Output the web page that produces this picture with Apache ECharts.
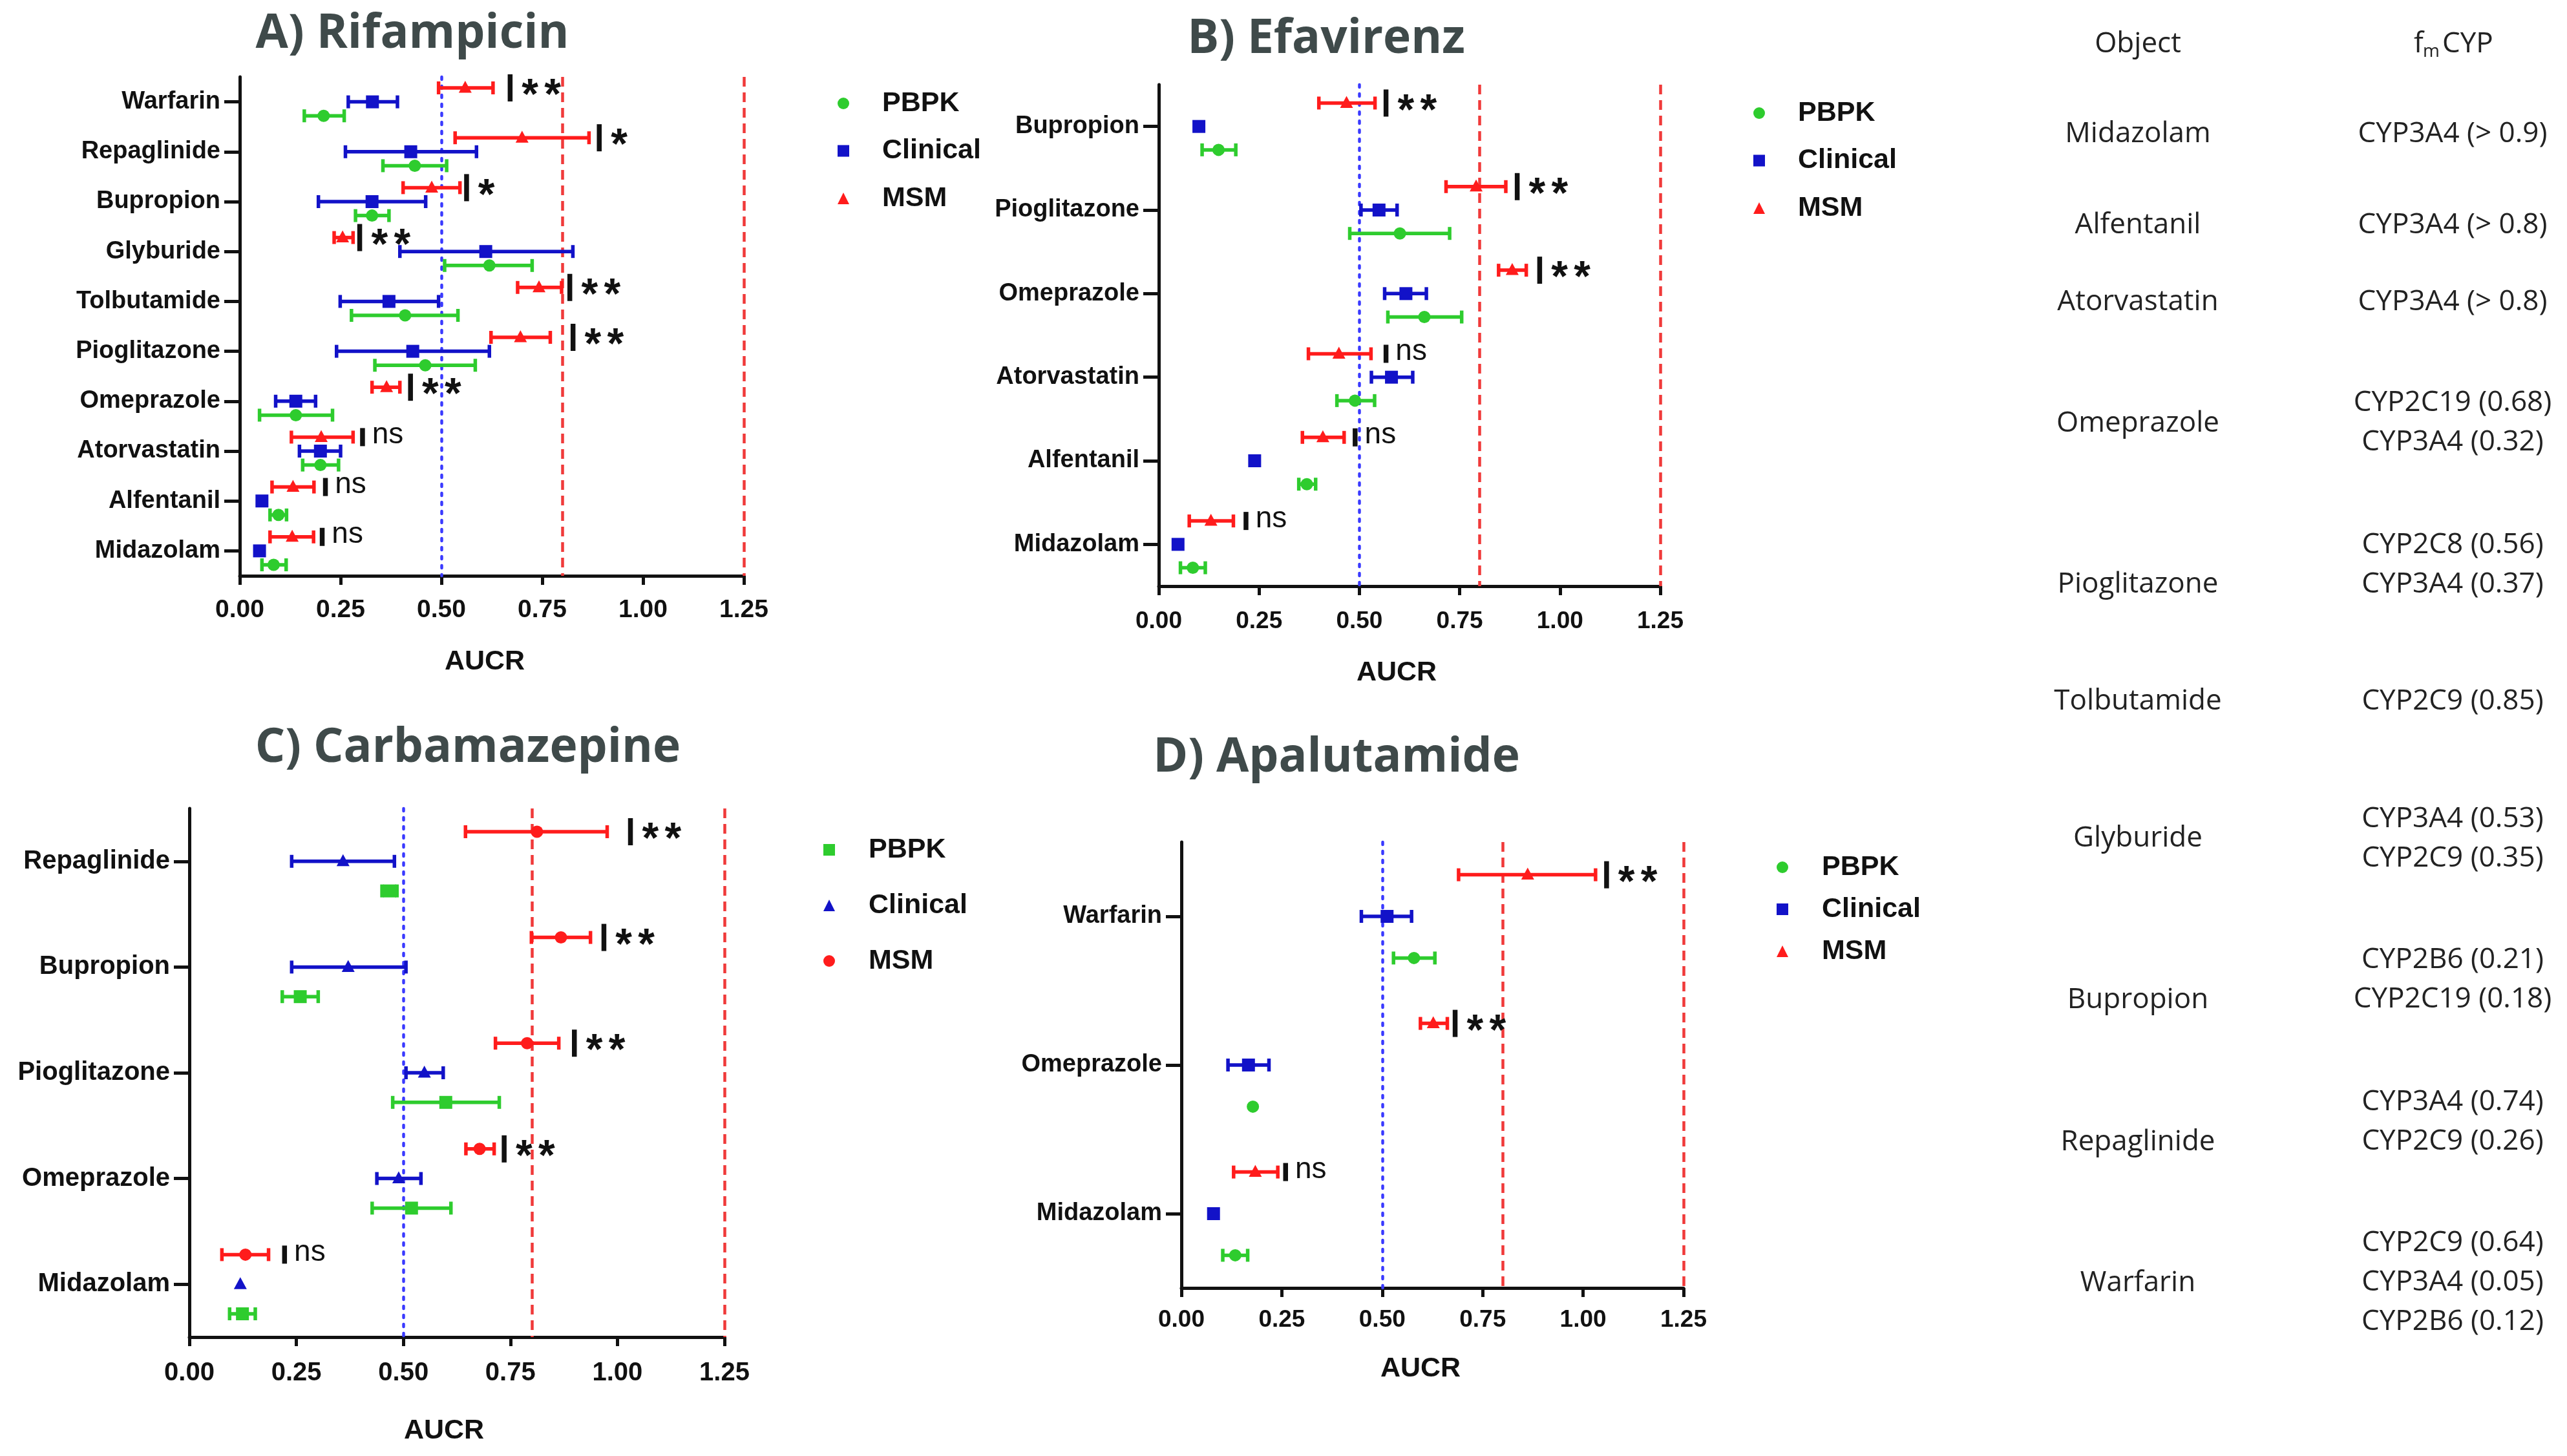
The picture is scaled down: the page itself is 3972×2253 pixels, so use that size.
<!DOCTYPE html>
<html><head><meta charset="utf-8">
<script src="https://cdn.jsdelivr.net/npm/echarts@6/dist/echarts.min.js"></script>
<style>html,body{margin:0;padding:0;background:#fff}#c{width:3972px;height:2253px}</style>
</head><body><div id="c"></div>
<script>
// ================= DATA =================
const xTicks = [0, 0.25, 0.5, 0.75, 1.0, 1.25];
const refDotted = 0.5;
const refDashed = [0.8, 1.25];
const seriesNames = ['PBPK', 'Clinical', 'MSM'];
const axisName = 'AUCR';

// Panel A - Rifampicin  ([low, mean, high])
const titleA = 'A) Rifampicin';
const catsA = ['Warfarin','Repaglinide','Bupropion','Glyburide','Tolbutamide','Pioglitazone','Omeprazole','Atorvastatin','Alfentanil','Midazolam'];
const pbpkA = [[0.160,0.208,0.259],[0.355,0.434,0.513],[0.287,0.328,0.370],[0.508,0.619,0.725],[0.277,0.410,0.541],[0.335,0.460,0.584],[0.049,0.139,0.230],[0.156,0.200,0.245],[0.075,0.096,0.116],[0.055,0.084,0.115]];
const clinA = [[0.269,0.329,0.391],[0.262,0.424,0.587],[0.195,0.328,0.461],[0.397,0.610,0.826],[0.249,0.370,0.493],[0.240,0.429,0.619],[0.089,0.139,0.188],[0.148,0.200,0.250],[0.055,0.055,0.055],[0.049,0.049,0.049]];
const msmA  = [[0.493,0.559,0.628],[0.534,0.700,0.866],[0.405,0.476,0.546],[0.234,0.255,0.281],[0.689,0.742,0.798],[0.623,0.696,0.770],[0.328,0.364,0.397],[0.128,0.202,0.281],[0.080,0.132,0.184],[0.075,0.130,0.183]];
const sigXA = [0.670,0.891,0.562,0.297,0.818,0.826,0.423,0.304,0.212,0.204];
const sigLabA = ['**','*','*','**','**','**','**','ns','ns','ns'];

// Panel B - Efavirenz
const titleB = 'B) Efavirenz';
const catsB = ['Bupropion','Pioglitazone','Omeprazole','Atorvastatin','Alfentanil','Midazolam'];
const pbpkB = [[0.108,0.149,0.192],[0.476,0.601,0.725],[0.571,0.662,0.755],[0.444,0.489,0.538],[0.349,0.369,0.391],[0.054,0.085,0.116]];
const clinB = [[0.100,0.100,0.100],[0.504,0.549,0.594],[0.563,0.616,0.667],[0.530,0.580,0.633],[0.239,0.239,0.239],[0.048,0.048,0.048]];
const msmB  = [[0.399,0.468,0.539],[0.716,0.791,0.865],[0.847,0.881,0.916],[0.373,0.449,0.529],[0.358,0.409,0.462],[0.076,0.130,0.186]];
const sigXB = [0.566,0.893,0.949,0.566,0.489,0.217];
const sigLabB = ['**','**','**','ns','ns','ns'];

// Panel C - Carbamazepine
const titleC = 'C) Carbamazepine';
const catsC = ['Repaglinide','Bupropion','Pioglitazone','Omeprazole','Midazolam'];
const pbpkC = [[0.450,0.468,0.485],[0.217,0.259,0.301],[0.475,0.599,0.724],[0.427,0.519,0.611],[0.094,0.124,0.154]];
const clinC = [[0.239,0.359,0.479],[0.239,0.371,0.506],[0.506,0.549,0.593],[0.438,0.489,0.541],[0.119,0.119,0.119]];
const msmC  = [[0.645,0.812,0.976],[0.799,0.868,0.937],[0.715,0.789,0.863],[0.646,0.678,0.712],[0.076,0.131,0.185]];
const sigXC = [1.030,0.968,0.899,0.735,0.222];
const sigLabC = ['**','**','**','**','ns'];

// Panel D - Apalutamide
const titleD = 'D) Apalutamide';
const catsD = ['Warfarin','Omeprazole','Midazolam'];
const pbpkD = [[0.528,0.579,0.631],[0.178,0.178,0.178],[0.103,0.134,0.165]];
const clinD = [[0.448,0.512,0.573],[0.116,0.167,0.218],[0.080,0.080,0.080]];
const msmD  = [[0.690,0.862,1.031],[0.595,0.627,0.662],[0.130,0.184,0.240]];
const sigXD = [1.058,0.681,0.259];
const sigLabD = ['**','**','ns'];

// Table
const tableHeadObject = 'Object';
const tableObjects = ['Midazolam','Alfentanil','Atorvastatin','Omeprazole','Pioglitazone','Tolbutamide','Glyburide','Bupropion','Repaglinide','Warfarin'];
const tableFm = [
  ['CYP3A4 (> 0.9)'],
  ['CYP3A4 (> 0.8)'],
  ['CYP3A4 (> 0.8)'],
  ['CYP2C19 (0.68)','CYP3A4 (0.32)'],
  ['CYP2C8 (0.56)','CYP3A4 (0.37)'],
  ['CYP2C9 (0.85)'],
  ['CYP3A4 (0.53)','CYP2C9 (0.35)'],
  ['CYP2B6 (0.21)','CYP2C19 (0.18)'],
  ['CYP3A4 (0.74)','CYP2C9 (0.26)'],
  ['CYP2C9 (0.64)','CYP3A4 (0.05)','CYP2B6 (0.12)']
];

// ================= LAYOUT / STYLE =================
const COLORS = {PBPK:'#2ecc2e', Clinical:'#1212c8', MSM:'#ff1c1c'};
const INK = '#111';
const OFFSETS = {PBPK:0.28, Clinical:0, MSM:-0.28};
const panels = [
  {title:titleA, cats:catsA, d:[pbpkA,clinA,msmA], sx:sigXA, sl:sigLabA,
   shapes:{PBPK:'circle',Clinical:'rect',MSM:'triangle'},
   grid:{left:371,top:119,width:780,height:772}, yFont:38, xFont:39, xMargin:34,
   legend:{left:1291,top:133,gap:29.5,textGap:46}, t:{x:638,y:53}, n:{x:750,y:1024}},
  {title:titleB, cats:catsB, d:[pbpkB,clinB,msmB], sx:sigXB, sl:sigLabB,
   shapes:{PBPK:'circle',Clinical:'rect',MSM:'triangle'},
   grid:{left:1793,top:131,width:776,height:776}, yFont:38, xFont:37, xMargin:36,
   legend:{left:2708,top:148,gap:29.5,textGap:46}, t:{x:2052,y:61}, n:{x:2161,y:1041}},
  {title:titleC, cats:catsC, d:[pbpkC,clinC,msmC], sx:sigXC, sl:sigLabC,
   shapes:{PBPK:'rect',Clinical:'triangle',MSM:'circle'},
   grid:{left:293,top:1251,width:828,height:818}, yFont:40, xFont:40, xMargin:36,
   legend:{left:1269,top:1288,gap:42,textGap:47}, t:{x:724,y:1158}, n:{x:687,y:2214}},
  {title:titleD, cats:catsD, d:[pbpkD,clinD,msmD], sx:sigXD, sl:sigLabD,
   shapes:{PBPK:'circle',Clinical:'rect',MSM:'triangle'},
   grid:{left:1828,top:1303,width:777,height:690}, yFont:38, xFont:37, xMargin:31,
   legend:{left:2744,top:1315,gap:21,textGap:47}, t:{x:2068,y:1173}, n:{x:2198,y:2118}}
];
const tableLayout = {objX:3308, fmX:3795, headY:68, step:61,
  objY:[207,348,467,655,904,1085,1297,1547,1767,1985],
  fmY0:[207,348,467,623,843,1085,1267,1485,1705,1923]};

function markerEl(shape, x, y, color){
  if (shape === 'circle') return {type:'circle', shape:{cx:x, cy:y, r:9.5}, style:{fill:color}};
  if (shape === 'rect') return {type:'rect', shape:{x:x-10, y:y-10, width:20, height:20}, style:{fill:color}};
  return {type:'polygon', shape:{points:[[x,y-11],[x-10,y+7.5],[x+10,y+7.5]]}, style:{fill:color}};
}

function errSeries(name, data, shape, gi){
  const color = COLORS[name], off = OFFSETS[name];
  return {
    type:'custom', name, xAxisIndex:gi, yAxisIndex:gi, z:5, color, itemStyle:{color},
    data: data.map((v,i)=>[v[0],v[1],v[2],i]),
    encode:{x:[0,1,2], y:3},
    renderItem(params, api){
      const lo=api.value(0), mid=api.value(1), hi=api.value(2), c=api.value(3);
      const band = api.size([0,1])[1];
      const pm = api.coord([mid,c]);
      const y = pm[1] + off*band;
      const xl = api.coord([lo,c])[0], xh = api.coord([hi,c])[0];
      const st = {stroke:color, lineWidth:5.5};
      const ch = [];
      if (xh - xl > 1){
        ch.push({type:'line', shape:{x1:xl,y1:y,x2:xh,y2:y}, style:st});
        ch.push({type:'line', shape:{x1:xl,y1:y-10,x2:xl,y2:y+10}, style:st});
        ch.push({type:'line', shape:{x1:xh,y1:y-10,x2:xh,y2:y+10}, style:st});
      }
      ch.push(markerEl(shape, pm[0], y, color));
      return {type:'group', children:ch};
    }
  };
}

function sigSeries(xs, labs, gi){
  return {
    type:'custom', name:'sig', xAxisIndex:gi, yAxisIndex:gi, z:6,
    data: xs.map((v,i)=>[v,i]),
    encode:{x:0, y:1},
    renderItem(params, api){
      const lab = labs[params.dataIndex];
      const band = api.size([0,1])[1];
      const p = api.coord([api.value(0), api.value(1)]);
      const y = p[1] + OFFSETS.MSM*band;
      const ns = lab === 'ns';
      const h = ns ? 28 : 42;
      const ch = [{type:'rect', shape:{x:p[0]-3.5, y:y-h/2, width:7.5, height:h}, style:{fill:INK}}];
      if (ns){
        ch.push({type:'text', x:p[0]+15, y:y-3, style:{text:'ns', fontSize:46, fontFamily:'Liberation Sans', fill:INK, align:'left', verticalAlign:'middle'}});
      } else {
        for (let k=0;k<lab.length;k++){
          ch.push({type:'text', x:p[0]+31+k*35, y:y+14, style:{text:'*', fontSize:66, fontWeight:'bold', fontFamily:'Liberation Sans', fill:INK, align:'center', verticalAlign:'middle'}});
        }
      }
      return {type:'group', children:ch};
    }
  };
}

const option = {backgroundColor:'#fff', animation:false, grid:[], xAxis:[], yAxis:[], series:[], legend:[], graphic:[]};

panels.forEach((P, gi)=>{
  option.grid.push(Object.assign({containLabel:false}, P.grid));
  option.xAxis.push({type:'value', gridIndex:gi, min:xTicks[0], max:xTicks[xTicks.length-1], interval:xTicks[1]-xTicks[0],
    axisLine:{show:true, lineStyle:{color:INK, width:5}},
    axisTick:{show:true, length:14, lineStyle:{color:INK, width:5}},
    splitLine:{show:false},
    axisLabel:{margin:P.xMargin, fontSize:P.xFont, fontWeight:'bold', fontFamily:'Liberation Sans', color:INK, formatter:v=>v.toFixed(2)}});
  option.yAxis.push({type:'category', gridIndex:gi, data:P.cats, inverse:true, boundaryGap:true,
    axisLine:{show:true, lineStyle:{color:INK, width:5}},
    axisTick:{show:true, alignWithLabel:true, length:24, lineStyle:{color:INK, width:5}},
    splitLine:{show:false},
    axisLabel:{margin:30, fontSize:P.yFont, fontWeight:'bold', fontFamily:'Liberation Sans', color:INK}});
  // reference lines
  option.series.push({type:'line', name:'ref', xAxisIndex:gi, yAxisIndex:gi, data:[], z:1, silent:true,
    markLine:{silent:true, symbol:['none','none'], label:{show:false}, animation:false,
      data:[{xAxis:refDotted, lineStyle:{color:'#3a3aff', width:4.5, type:[4,10], cap:'round'}}]
        .concat(refDashed.map(v=>({xAxis:v, lineStyle:{color:'#f03a3a', width:4.5, type:[15,9]}})))}});
  seriesNames.forEach((nm, si)=>option.series.push(errSeries(nm, P.d[si], P.shapes[nm], gi)));
  option.series.push(sigSeries(P.sx, P.sl, gi));
  option.legend.push({orient:'vertical', left:P.legend.left, top:P.legend.top, itemWidth:18, itemHeight:18,
    itemGap:P.legend.gap, selectedMode:false,
    textStyle:{fontSize:43, lineHeight:44, fontWeight:'bold', fontFamily:'Liberation Sans', color:INK, padding:[0,0,0,P.legend.textGap]},
    data:seriesNames.map(nm=>({name:nm, icon:P.shapes[nm], itemStyle:{color:COLORS[nm]}}))});
  option.graphic.push({type:'text', x:P.t.x, y:P.t.y, style:{text:P.title, fontSize:73, fontWeight:'bold', fontFamily:'Open Sans', fill:'#3f4a4a', align:'center', verticalAlign:'middle'}});
  option.graphic.push({type:'text', x:P.n.x, y:P.n.y, style:{text:axisName, fontSize:43, fontWeight:'bold', fontFamily:'Liberation Sans', fill:INK, align:'center', verticalAlign:'middle'}});
});

// table
const TF = 'Open Sans', TC = '#222';
option.graphic.push({type:'text', x:tableLayout.objX, y:tableLayout.headY, style:{text:tableHeadObject, fontSize:44, fontFamily:TF, fill:TC, align:'center', verticalAlign:'middle'}});
option.graphic.push({type:'text', x:3735, y:tableLayout.headY, style:{text:'f', fontSize:44, fontFamily:TF, fill:TC, align:'left', verticalAlign:'middle'}});
option.graphic.push({type:'text', x:3749, y:tableLayout.headY+12, style:{text:'m', fontSize:28, fontFamily:TF, fill:TC, align:'left', verticalAlign:'middle'}});
option.graphic.push({type:'text', x:3779, y:tableLayout.headY, style:{text:'CYP', fontSize:44, fontFamily:TF, fill:TC, align:'left', verticalAlign:'middle'}});
tableObjects.forEach((o,i)=>{
  option.graphic.push({type:'text', x:tableLayout.objX, y:tableLayout.objY[i], style:{text:o, fontSize:44, fontFamily:TF, fill:TC, align:'center', verticalAlign:'middle'}});
  tableFm[i].forEach((f,j)=>{
    option.graphic.push({type:'text', x:tableLayout.fmX, y:tableLayout.fmY0[i]+j*tableLayout.step, style:{text:f, fontSize:44, fontFamily:TF, fill:TC, align:'center', verticalAlign:'middle'}});
  });
});

const chart = echarts.init(document.getElementById('c'), null, {renderer:'canvas'});
chart.setOption(option);
</script></body></html>
